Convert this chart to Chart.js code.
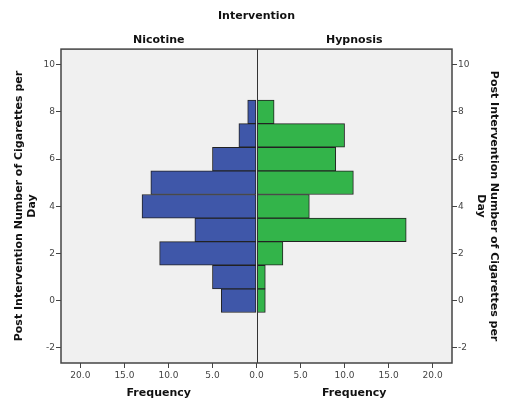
<!DOCTYPE html>
<html>
<head>
<meta charset="utf-8">
<script src="https://cdn.jsdelivr.net/npm/chart.js"></script>
<style>
  html, body { margin: 0; padding: 0; background: #ffffff; }
  #wrap { width: 513px; height: 411px; position: relative; }
</style>
</head>
<body>
<div id="wrap"><canvas id="pyramid"></canvas></div>
<script>
  // bins of the histogram (centre of each 1-wide bin)
  const cigaretteBins = [0, 1, 2, 3, 4, 5, 6, 7, 8];
  // frequencies per bin
  const nicotineFreq = [4, 5, 11, 7, 13, 12, 5, 2, 1];
  const hypnosisFreq = [1, 1, 3, 17, 6, 11, 9, 10, 2];
  // tick labels
  const yTicks = [-2, 0, 2, 4, 6, 8, 10];
  const freqTicks = [0, 5, 10, 15, 20];
  const groupNames = ['Nicotine', 'Hypnosis'];

  const FONT = 'DejaVu Sans';
  const yTitle = ['Post Intervention Number of Cigarettes per', 'Day'];

  // plot background, frame and centre line
  const framePlugin = {
    id: 'frame',
    beforeDraw(chart) {
      const a = chart.chartArea, ctx = chart.ctx;
      ctx.save();
      ctx.fillStyle = '#f0f0f0';
      ctx.fillRect(a.left, a.top, a.right - a.left, a.bottom - a.top);
      ctx.restore();
    },
    afterDatasetsDraw(chart) {
      const a = chart.chartArea, ctx = chart.ctx;
      const cx = chart.scales.xL.getPixelForValue(0);
      ctx.save();
      ctx.strokeStyle = '#333';
      ctx.lineWidth = 1;
      ctx.beginPath();
      ctx.moveTo(Math.round(cx) + 0.5, a.top);
      ctx.lineTo(Math.round(cx) + 0.5, a.bottom);
      ctx.stroke();
      ctx.strokeStyle = '#444';
      ctx.lineWidth = 1.5;
      ctx.strokeRect(a.left, a.top, a.right - a.left, a.bottom - a.top);
      ctx.restore();
    }
  };

  const tickFont = { family: FONT, size: 9 };
  const titleFont = { family: FONT, size: 11, weight: 'bold', lineHeight: 1.1 };
  const yTitleFont = { family: FONT, size: 11, weight: 'bold', lineHeight: 1.2 };

  function yAxis(pos) {
    return {
      type: 'linear', position: pos, min: -2.64, max: 10.66, offset: false,
      afterBuildTicks: s => { s.ticks = yTicks.map(v => ({ value: v })); },
      afterFit: s => { s.width = 61; },
      grid: { drawOnChartArea: false, offset: false, tickLength: 5, tickColor: '#444' },
      border: { display: false },
      ticks: { font: tickFont, color: '#444', padding: 1, autoSkip: false },
      title: { display: true, text: yTitle, font: yTitleFont, color: '#111', padding: { top: 12.4, bottom: 0 } }
    };
  }

  function freqAxis(reverse) {
    return {
      type: 'linear', position: 'bottom', stack: 'freq', reverse: reverse,
      min: 0, max: 22.2,
      afterBuildTicks: s => { s.ticks = freqTicks.map(v => ({ value: v })); },
      afterFit: s => { s.height = 48; },
      grid: { drawOnChartArea: false, tickLength: 5, tickColor: '#444' },
      border: { display: false },
      ticks: {
        font: tickFont, color: '#444', padding: 2, maxRotation: 0, autoSkip: false,
        callback: v => (!reverse && v === 0) ? '' : v.toFixed(1)
      },
      title: { display: true, text: 'Frequency', font: titleFont, color: '#111', padding: { top: 0, bottom: 12 } }
    };
  }

  function groupAxis(name) {
    return {
      type: 'linear', position: 'top', stack: 'group', min: 0, max: 1,
      afterFit: s => { s.height = 23; },
      grid: { display: false },
      border: { display: false },
      ticks: { display: false },
      title: { display: true, text: name, font: titleFont, color: '#111', padding: { top: 8, bottom: 0 } }
    };
  }

  new Chart(document.getElementById('pyramid'), {
    type: 'bar',
    data: {
      datasets: [{
        label: groupNames[0],
        data: cigaretteBins.map((b, i) => ({ x: nicotineFreq[i], y: b })),
        xAxisID: 'xL', yAxisID: 'y',
        backgroundColor: '#3f57a9', borderColor: '#222', borderWidth: 1,
        borderSkipped: false, grouped: false, barPercentage: 1, categoryPercentage: 1
      }, {
        label: groupNames[1],
        data: cigaretteBins.map((b, i) => ({ x: hypnosisFreq[i], y: b })),
        xAxisID: 'xR', yAxisID: 'y',
        backgroundColor: '#33b44a', borderColor: '#222', borderWidth: 1,
        borderSkipped: false, grouped: false, barPercentage: 1, categoryPercentage: 1
      }]
    },
    options: {
      indexAxis: 'y',
      responsive: true,
      maintainAspectRatio: false,
      animation: false,
      layout: { padding: 0 },
      scales: {
        xL: freqAxis(true),
        xR: freqAxis(false),
        gR: groupAxis(groupNames[1]),
        gL: groupAxis(groupNames[0]),
        y: yAxis('left'),
        y2: yAxis('right')
      },
      plugins: {
        legend: { display: false },
        tooltip: { enabled: false },
        title: {
          display: true, text: 'Intervention', font: titleFont, color: '#111',
          padding: { top: 10, bottom: 4 }
        }
      }
    },
    plugins: [framePlugin]
  });
</script>
</body>
</html>
